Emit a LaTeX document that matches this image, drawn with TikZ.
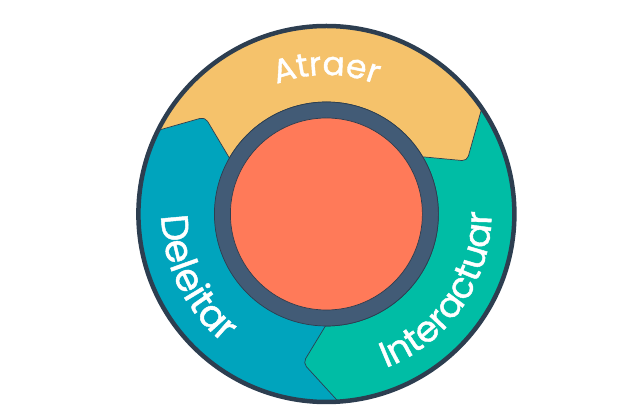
\documentclass[tikz,border=0pt]{standalone}
\usepackage{fontspec}
\usetikzlibrary{calc,decorations.text}
\newfontfamily\wheelfont[FakeBold=1.2]{Poppins}
\definecolor{attractc}{HTML}{F5C26B}
\definecolor{engagec}{HTML}{00BDA5}
\definecolor{delightc}{HTML}{00A4BD}
\definecolor{ringc}{HTML}{425B76}
\definecolor{hubc}{HTML}{FF7A59}
\definecolor{rimc}{HTML}{2D3E50}
\newcommand{\wheeltext}{\color{white}\wheelfont\fontsize{36}{36}\selectfont}
\newcommand{\wheeltop}{\color{white}\wheelfont\fontsize{33}{33}\selectfont}
\newcommand{\wheelleft}{\color{white}\wheelfont\fontsize{38}{38}\selectfont}
\begin{document}
\begin{tikzpicture}[x=1pt,y=1pt,
                    piece/.style={draw=rimc,line width=0.7pt,line join=round},
                    wheeltext/.style={decorate,decoration={text along path,text align=center,
                      text format delimiters={|}{|}}}]
  \useasboundingbox (0,0) rectangle (640,420);
  \coordinate (c) at (326.4,206);

  % sectors
  \node[circle,fill=delightc,minimum size=376pt,inner sep=0pt] (delight) at (c) {};
  \path[piece,fill=engagec] (c) ++(34:187) coordinate (engagetop)
        arc[start angle=34,end angle=-86.6,radius=187] coordinate (engageend)
        [rounded corners=5pt] -- (303,57) [sharp corners] -- ($(c)+(-90.5:112)$)
        arc[start angle=-90.5,end angle=30.7,radius=112] -- cycle;
  \path[piece,fill=attractc] (c) ++(153.3:187) coordinate (attractstart)
        [rounded corners=5pt] -- (205,303) [sharp corners] -- ($(c)+(150:112)$)
        arc[start angle=150,end angle=30.7,radius=112]
        [rounded corners=5pt] -- (467,259) [sharp corners] -- (engagetop)
        arc[start angle=34,end angle=153.3,radius=187] -- cycle;

  % hub and rim
  \node[circle,draw=rimc,line width=0.7pt,fill=ringc,minimum size=224pt,inner sep=0pt] (ring) at (c) {};
  \node[circle,draw=rimc,line width=0.7pt,fill=hubc,minimum size=192pt,inner sep=0pt] (hub) at (c) {};
  \node[circle,draw=rimc,line width=4.5pt,minimum size=376pt,inner sep=0pt] (rim) at (c) {};

  % labels
  \path[wheeltext,decoration={text={|\wheeltop|Atraer}}]
        (c) ++(115:139) arc[start angle=115,end angle=65,radius=139];
  \path[wheeltext,decoration={text={|\wheelleft|Deleitar}}]
        (c) ++(175:165) arc[start angle=175,end angle=237,radius=165];
  \path[wheeltext,decoration={text={|\wheeltext|Interactuar}}]
        (c) ++(-72:165) arc[start angle=-72,end angle=4,radius=165];
\end{tikzpicture}
\end{document}
